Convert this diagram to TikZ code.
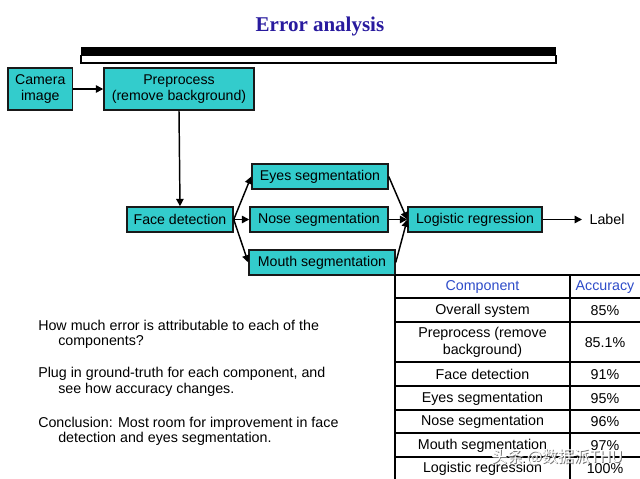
\documentclass[tikz,border=0pt]{standalone}
\usepackage{fontspec}
\setmainfont{Liberation Sans}
\newfontfamily\titlefont{Liberation Serif}
\newfontfamily\cjkfont{Noto Sans CJK SC}
\usetikzlibrary{arrows.meta}
\definecolor{boxfill}{RGB}{51,204,204}
\definecolor{titleblue}{RGB}{40,26,158}
\definecolor{headblue}{RGB}{45,75,200}
\tikzset{
  blk/.style={draw=black!90, line width=1.1pt, fill=boxfill, inner sep=0pt, align=center,
     font=\fontsize{10.6pt}{12.5pt}\selectfont},
  conn/.style={line width=1.1pt, -{Triangle[length=5.5pt,width=5.5pt]}},
  para/.style={anchor=base west, inner sep=0pt, font=\fontsize{10.7pt}{12.5pt}\selectfont},
  cell/.style={inner sep=0pt, align=center, font=\fontsize{10.7pt}{12.5pt}\selectfont},
  tline/.style={line width=0.8pt}
}
\begin{document}
\begin{tikzpicture}[x=0.75pt,y=-0.75pt]
\useasboundingbox (0,0) rectangle (640,479);
% title
\node[font=\titlefont\bfseries\fontsize{15.75pt}{18pt}\selectfont, text=titleblue] (title) at (320,26) {Error analysis};
% bar
\fill[black] (81,46.5) rectangle (556,55.5);
\draw[line width=0.8pt, fill=white] (81,55.5) rectangle (556,63);
% blocks
\node[blk, minimum width=48.4pt, minimum height=31.5pt] (cam) at (40.25,89) {Camera\\image};
\node[blk, minimum width=112.5pt, minimum height=31.5pt] (pre) at (179,89) {Preprocess\\(remove background)};
\node[blk, minimum width=79.5pt, minimum height=18.75pt] (face) at (180,219.5) {Face detection};
\node[blk, minimum width=102pt, minimum height=18.75pt] (eyes) at (320,176.5) {Eyes segmentation};
\node[blk, minimum width=103.5pt, minimum height=18.75pt] (nose) at (319,219.5) {Nose segmentation};
\node[blk, minimum width=109.5pt, minimum height=18.75pt] (mouth) at (322,262.5) {Mouth segmentation};
\node[blk, minimum width=100.5pt, minimum height=18.75pt] (logi) at (475,219.5) {Logistic regression};
\node[para, anchor=west, inner xsep=5.5pt] (label) at (582,219.5) {Label};
% connectors
\draw[conn] (cam) -- (pre);
\draw[conn] (pre.south) -- (face.north);
\draw[conn] (face.east) -- (eyes.west);
\draw[conn] (face.east) -- (nose.west);
\draw[conn] (face.east) -- (mouth.west);
\draw[conn] (eyes.east) -- (logi.west);
\draw[conn] (nose.east) -- (logi.west);
\draw[conn] (mouth.east) -- (logi.west);
\draw[conn] (logi.east) -- (label.west);
% left text
\node[para] (t1) at (38,330) {How much error is attributable to each of the};
\node[para] (t2) at (58,345) {components?};
\node[para] (t3) at (38,377) {Plug in ground-truth for each component, and};
\node[para] (t4) at (58,393) {see how accuracy changes.};
\node[para] (t5) at (38,427) {Conclusion: Most room for improvement in face};
\node[para] (t6) at (58,442) {detection and eyes segmentation.};
% table
\draw[line width=2pt] (395,275) -- (640,275);
\foreach \yy in {298,322,362,386,410,433,457} \draw[tline] (395,\yy) -- (640,\yy);
\draw[tline] (395,275) -- (395,479);
\draw[tline] (570,275) -- (570,479);
\node[cell, text=headblue] (h1) at (482.5,287) {Component};
\node[cell, text=headblue] (h2) at (605,287) {Accuracy};
\node[cell] (r1a) at (482.5,310.5) {Overall system};
\node[cell] (r1b) at (605,310.5) {85\%};
\node[cell] (r2a) at (482.5,342.5) {Preprocess (remove\\background)};
\node[cell] (r2b) at (605,342.5) {85.1\%};
\node[cell] (r3a) at (482.5,374.5) {Face detection};
\node[cell] (r3b) at (605,374.5) {91\%};
\node[cell] (r4a) at (482.5,398.5) {Eyes segmentation};
\node[cell] (r4b) at (605,398.5) {95\%};
\node[cell] (r5a) at (482.5,422) {Nose segmentation};
\node[cell] (r5b) at (605,422) {96\%};
\node[cell] (r6a) at (482.5,445.5) {Mouth segmentation};
\node[cell] (r6b) at (605,445.5) {97\%};
\node[cell] (r7a) at (482.5,469) {Logistic regression};
\node[cell] (r7b) at (605,469) {100\%};
% watermark
\node[font=\cjkfont\fontsize{12pt}{14pt}\selectfont, text=black!55] (wms) at (558,458.5) {头条 @数据派THU};
\node[font=\cjkfont\fontsize{12pt}{14pt}\selectfont, text=white] (wm) at (557,457.5) {头条 @数据派THU};
\end{tikzpicture}
\end{document}
